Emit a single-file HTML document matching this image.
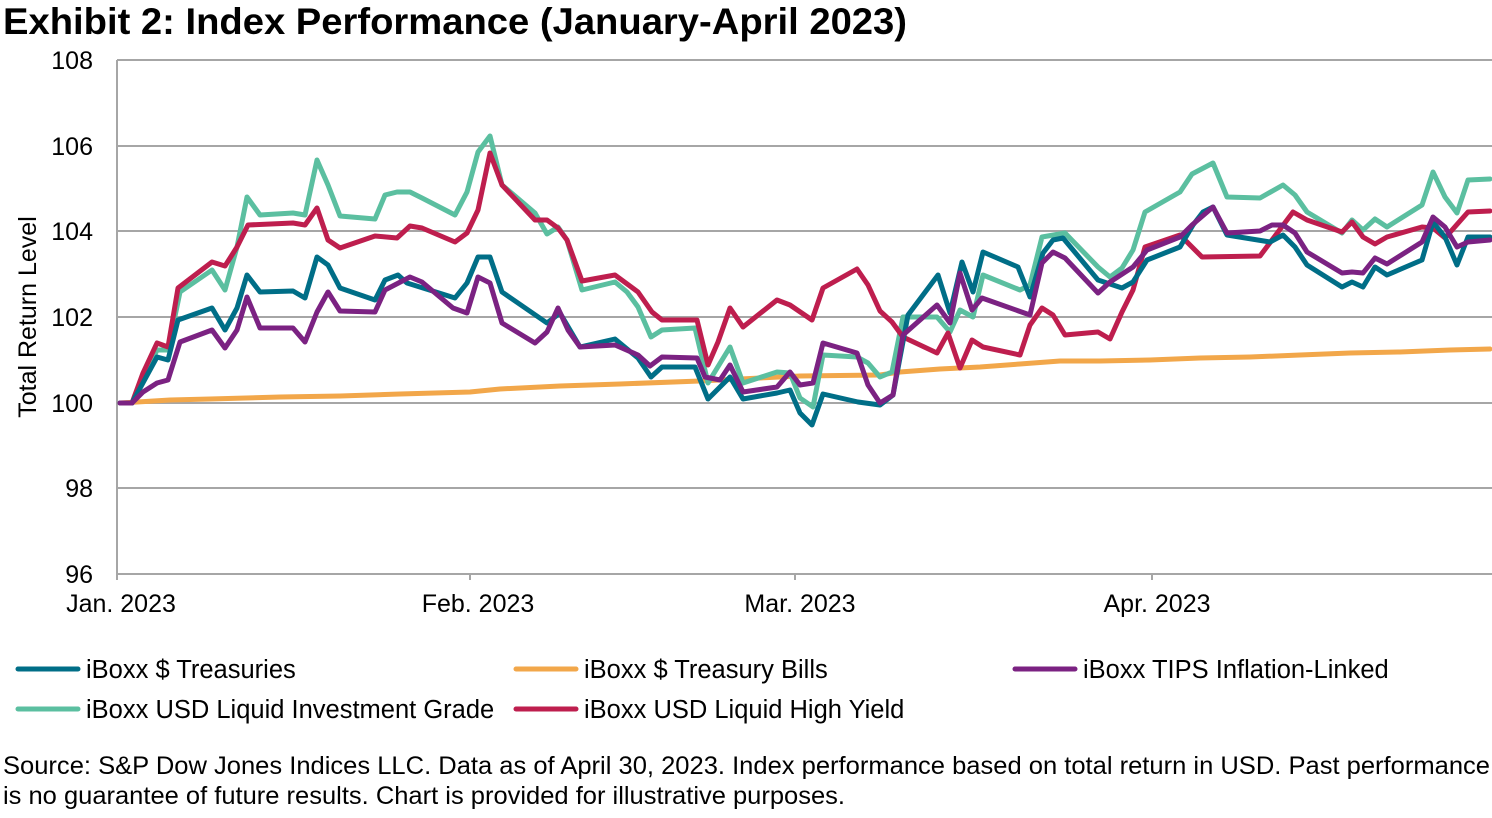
<!DOCTYPE html>
<html><head><meta charset="utf-8"><style>
body{margin:0;background:#fff;width:1492px;height:813px;overflow:hidden;font-family:"Liberation Sans",Arial,sans-serif}
</style></head><body>
<svg width="1492" height="813" xmlns="http://www.w3.org/2000/svg" font-family="Liberation Sans, Arial, sans-serif">
<text x="3" y="34" font-size="37" font-weight="bold" fill="#000" textLength="904" lengthAdjust="spacingAndGlyphs">Exhibit 2: Index Performance (January-April 2023)</text>
<g stroke="#a6a6a6" stroke-width="2">
<line x1="117" y1="60" x2="1492" y2="60"/><line x1="117" y1="146" x2="1492" y2="146"/><line x1="117" y1="231" x2="1492" y2="231"/><line x1="117" y1="317" x2="1492" y2="317"/><line x1="117" y1="403" x2="1492" y2="403"/><line x1="117" y1="488" x2="1492" y2="488"/><line x1="117" y1="574" x2="1492" y2="574"/>
<line x1="117" y1="60" x2="117" y2="580"/>
<line x1="470" y1="574" x2="470" y2="580"/><line x1="795" y1="574" x2="795" y2="580"/><line x1="1152" y1="574" x2="1152" y2="580"/>
</g>
<g font-size="25" fill="#000" text-anchor="end">
<text x="93" y="69">108</text><text x="93" y="155">106</text><text x="93" y="240">104</text><text x="93" y="326">102</text><text x="93" y="412">100</text><text x="93" y="497">98</text><text x="93" y="583">96</text>
</g>
<text transform="translate(36,317) rotate(-90)" font-size="25" text-anchor="middle">Total Return Level</text>
<g font-size="25" text-anchor="middle">
<text x="121" y="612">Jan. 2023</text><text x="478" y="612">Feb. 2023</text><text x="800" y="612">Mar. 2023</text><text x="1157" y="612">Apr. 2023</text>
</g>
<g fill="none" stroke-width="5" stroke-linejoin="round" stroke-linecap="round">
<polyline stroke="#F2A74A" points="120,403 170,400 210,399 280,397 340,396 400,394 470,392 500,389 560,386 620,384 700,381 800,376 880,375 900,372 940,369 980,367 1020,364 1060,361 1100,361 1150,360 1200,358 1250,357 1300,355 1350,353 1400,352 1450,350 1490,349"/>
<polyline stroke="#5BBFA0" points="120,403 132,403 157,350 168,350 180,292 212,270 225,290 237,247 247,197 260,215 293,213 305,215 317,160 328,185 340,216 375,219 385,195 397,192 410,192 422,198 455,215 467,192 478,152 490,136 502,185 535,213 547,234 558,227 567,240 582,290 615,282 627,292 638,307 651,337 662,330 695,328 708,383 730,347 743,383 777,372 790,373 800,398 813,407 823,355 857,357 868,363 880,377 892,372 903,317 937,317 950,332 960,310 973,317 983,275 1020,290 1030,285 1042,237 1065,233 1098,267 1110,277 1122,268 1133,250 1145,212 1180,192 1192,174 1213,163 1227,197 1260,198 1283,185 1295,195 1307,212 1342,233 1352,220 1363,230 1375,219 1387,227 1422,205 1433,172 1445,197 1457,213 1468,180 1490,179"/>
<polyline stroke="#BE1E4E" points="120,403 132,403 143,373 157,343 168,347 178,288 212,262 225,266 237,247 248,225 293,223 305,225 317,208 328,240 340,248 375,236 397,238 410,226 422,228 455,242 467,233 478,210 490,153 502,185 535,220 547,220 558,228 567,240 582,281 615,275 638,292 652,312 662,320 697,320 708,365 718,342 730,308 743,327 777,300 790,305 812,320 823,288 857,269 868,285 880,311 892,322 903,337 937,353 948,333 960,368 972,340 983,347 1020,355 1030,325 1042,308 1053,315 1065,335 1098,332 1110,339 1122,312 1133,290 1145,247 1180,235 1202,257 1260,256 1293,212 1307,220 1342,232 1352,222 1363,237 1375,244 1387,237 1422,227 1433,228 1445,238 1468,212 1490,211"/>
<polyline stroke="#006E87" points="120,403 132,403 157,357 168,360 178,320 212,308 225,330 237,308 247,275 260,292 293,291 305,298 317,257 328,265 340,288 375,300 385,280 398,275 407,283 455,298 467,283 478,257 490,257 502,292 547,323 560,313 580,347 615,339 638,358 651,377 662,367 695,367 708,399 730,377 743,399 777,393 790,390 800,413 812,425 823,394 858,402 880,405 893,395 908,315 938,275 950,313 962,262 973,292 983,252 1018,267 1030,297 1043,253 1053,240 1063,238 1098,280 1122,288 1133,282 1147,260 1180,247 1193,225 1203,212 1213,207 1227,235 1270,242 1283,235 1295,247 1307,265 1342,287 1352,282 1363,287 1375,267 1387,275 1422,260 1433,222 1445,237 1457,265 1468,237 1490,237"/>
<polyline stroke="#7B2282" points="120,403 132,403 143,392 157,383 168,380 180,342 212,330 225,348 237,330 247,297 260,328 293,328 305,342 317,312 328,292 340,311 375,312 385,290 410,277 422,282 453,308 467,313 478,277 490,283 502,323 535,343 547,332 558,308 568,330 580,347 615,345 638,355 650,366 662,357 697,358 705,377 720,380 730,365 743,392 777,387 790,372 800,385 813,383 823,343 857,353 868,385 880,403 893,395 903,335 937,305 950,323 960,273 972,310 982,298 1030,315 1042,263 1053,252 1065,258 1098,293 1110,282 1133,267 1147,250 1180,237 1192,225 1213,207 1227,233 1260,231 1272,225 1283,225 1295,233 1307,252 1342,273 1352,272 1363,273 1375,258 1387,264 1422,242 1433,217 1445,227 1457,247 1468,242 1490,240"/>
</g>
<g stroke-width="5" stroke-linecap="round">
<line x1="18" y1="669" x2="78" y2="669" stroke="#006E87"/>
<line x1="516" y1="669" x2="576" y2="669" stroke="#F2A74A"/>
<line x1="1015" y1="669" x2="1075" y2="669" stroke="#7B2282"/>
<line x1="18" y1="709" x2="78" y2="709" stroke="#5BBFA0"/>
<line x1="516" y1="709" x2="576" y2="709" stroke="#BE1E4E"/>
</g>
<g font-size="25.5" fill="#000">
<text x="86" y="678">iBoxx $ Treasuries</text>
<text x="584" y="678">iBoxx $ Treasury Bills</text>
<text x="1083" y="678">iBoxx TIPS Inflation-Linked</text>
<text x="86" y="718">iBoxx USD Liquid Investment Grade</text>
<text x="584" y="718">iBoxx USD Liquid High Yield</text>
</g>
<g font-size="25" fill="#000">
<text x="3" y="774" textLength="1487" lengthAdjust="spacingAndGlyphs">Source: S&amp;P Dow Jones Indices LLC. Data as of April 30, 2023. Index performance based on total return in USD. Past performance</text>
<text x="3" y="804" textLength="842" lengthAdjust="spacingAndGlyphs">is no guarantee of future results. Chart is provided for illustrative purposes.</text>
</g>
</svg>
</body></html>
